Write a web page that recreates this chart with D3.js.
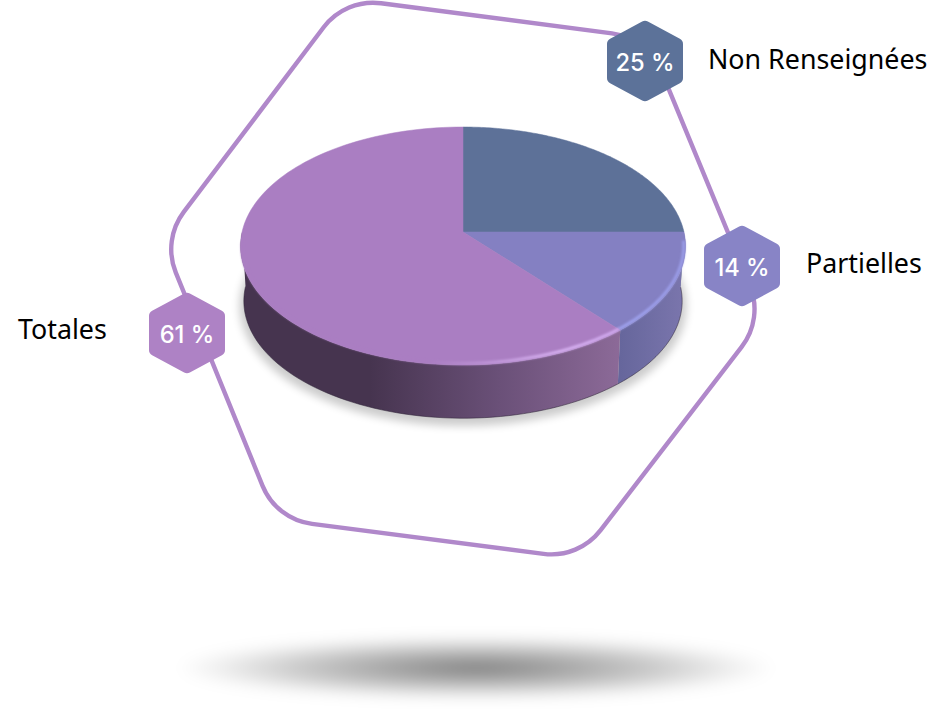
<!DOCTYPE html>
<html><head><meta charset="utf-8">
<script src="https://cdn.jsdelivr.net/npm/d3@7/dist/d3.min.js"></script>
<style>html,body{margin:0;padding:0;background:#fff}svg{display:block}</style>
</head><body><svg id="c" width="952" height="709"></svg>
<script>
const categories = ["Non Renseignées", "Partielles", "Totales"];
const values = [25, 14, 61];
const topColors = ["#5d7198", "#8480c2", "#aa7ec2"];
const badgeColors = ["#5c7299", "#8884c6", "#ae82c5"];
const sideStops = [
  [["#4a5a7a", 0], ["#4a5a7a", 1]],
  [["#66669c", 0], ["#7b76ad", 1]],
  [["#46344f", 0], ["#46344f", 0.34], ["#6a5078", 0.68], ["#8c6a98", 1]]
];
const rimStops = [
  [["#7f95c0", 0], ["#7f95c0", 1]],
  [["#9fa2ee", 0], ["#9a9ce8", 1]],
  [["#aa7ec2", 0], ["#aa7ec2", 0.5], ["#d8b2f2", 0.84], ["#cfa8ee", 1]]
];
const badgeCenters = [[645, 61], [742, 266], [187, 333]];
const labelPos = [[708, 68.5, "start"], [806, 273, "start"], [18, 338.5, "start"]];
const outline = [[345.4, -1.4], [647.6, 38], [763.5, 318.5], [578.9, 558.4], [276.2, 519.3], [162.5, 240]];

const W = 952, H = 709;
const svg = d3.select("#c").attr("viewBox", `0 0 ${W} ${H}`);
const defs = svg.append("defs");
const blur = (id, s) => defs.append("filter").attr("id", id)
  .attr("x", "-30%").attr("y", "-60%").attr("width", "160%").attr("height", "220%")
  .append("feGaussianBlur").attr("stdDeviation", s);
blur("b1", 1.1); blur("b4", 4); blur("b8", 7);

// floor shadow
const rg = defs.append("radialGradient").attr("id", "floor");
[[0, 0.5], [0.25, 0.38], [0.6, 0.21], [0.85, 0.07], [1, 0]].forEach(([o, a]) =>
  rg.append("stop").attr("offset", o).attr("stop-color", "#000").attr("stop-opacity", a));
svg.append("ellipse").attr("cx", 476).attr("cy", 668).attr("rx", 300).attr("ry", 32)
  .attr("fill", "url(#floor)").attr("filter", "url(#b8)");

// outline
function roundedPoly(pts, r) {
  const p = d3.path(), n = pts.length;
  const mid = (a, b) => [(a[0] + b[0]) / 2, (a[1] + b[1]) / 2];
  const s = mid(pts[n - 1], pts[0]);
  p.moveTo(s[0], s[1]);
  for (let i = 0; i < n; i++) {
    const a = pts[i], b = pts[(i + 1) % n];
    p.arcTo(a[0], a[1], b[0], b[1], r);
  }
  p.closePath();
  return p.toString();
}
svg.append("path").attr("d", roundedPoly(outline, 62)).attr("fill", "none")
  .attr("stroke", "#b088ca").attr("stroke-width", 4.4);

// pie geometry
const apex = { x: 463, y: 232 }, ell = { cx: 463, cy: 246, rx: 222.5, ry: 119 };
const depth = 55, ky = 115, bottomScale = 0.985;
function rim(theta) {
  const dx = Math.sin(theta) * ell.rx, dy = -Math.cos(theta) * ky;
  const ox = apex.x - ell.cx, oy = apex.y - ell.cy;
  const A = dx * dx / (ell.rx * ell.rx) + dy * dy / (ell.ry * ell.ry);
  const B = 2 * (ox * dx / (ell.rx * ell.rx) + oy * dy / (ell.ry * ell.ry));
  const C = ox * ox / (ell.rx * ell.rx) + oy * oy / (ell.ry * ell.ry) - 1;
  const t = (-B + Math.sqrt(B * B - 4 * A * C)) / (2 * A);
  return [apex.x + t * dx, apex.y + t * dy];
}
const lower = p => [ell.cx + (p[0] - ell.cx) * bottomScale, ell.cy + depth + (p[1] - ell.cy) * bottomScale];
const inset = p => [ell.cx + (p[0] - ell.cx) * 0.992, ell.cy + (p[1] - ell.cy) * 0.985];
const slices = d3.pie().sort(null)(values);
const arcPts = d => d3.range(0, 121).map(i => rim(d.startAngle + (d.endAngle - d.startAngle) * i / 120));
const line = d3.line();

// contact shadow
svg.append("ellipse").attr("cx", ell.cx).attr("cy", ell.cy + depth + 5).attr("rx", ell.rx + 1).attr("ry", ell.ry + 1)
  .attr("fill", "#000").attr("opacity", 0.2).attr("filter", "url(#b4)");

function grad(id, stops, x1, x2) {
  const g = defs.append("linearGradient").attr("id", id).attr("gradientUnits", "userSpaceOnUse")
    .attr("x1", x1).attr("x2", x2).attr("y1", 0).attr("y2", 0);
  stops.forEach(([c, o]) => g.append("stop").attr("offset", o).attr("stop-color", c));
}

// sides
slices.forEach((d, i) => {
  const pts = arcPts(d).filter(p => p[1] >= ell.cy - 16);
  const ext = d3.extent(pts, p => p[0]);
  grad("side" + i, sideStops[i], ext[0], ext[1]);
  svg.append("path").attr("d", line(pts.concat(pts.map(lower).reverse())) + "Z")
    .attr("fill", `url(#side${i})`);
  if (i > 0) svg.append("path").attr("d", line(pts.map(lower))).attr("fill", "none")
    .attr("stroke", "#2f2438").attr("stroke-opacity", 0.55).attr("stroke-width", 1);
});
// top faces
slices.forEach((d, i) => {
  svg.append("path").attr("d", line([[apex.x, apex.y]].concat(arcPts(d))) + "Z")
    .attr("fill", topColors[i]).attr("stroke", topColors[i]).attr("stroke-width", 0.5);
});
// rim highlight
slices.forEach((d, i) => {
  const pts = arcPts(d).filter(p => p[1] >= ell.cy - 6);
  if (pts.length < 2 || i === 0) return;
  const ext = d3.extent(pts, p => p[0]);
  grad("rim" + i, rimStops[i], ext[0], ext[1]);
  svg.append("path").attr("d", line(pts.map(inset))).attr("fill", "none")
    .attr("stroke", `url(#rim${i})`).attr("stroke-width", 3).attr("filter", "url(#b1)");
});

// badges
function hexPts(c) {
  const rx = 38, ry = 41;
  return [[0, -ry], [rx, -ry / 2], [rx, ry / 2], [0, ry], [-rx, ry / 2], [-rx, -ry / 2]]
    .map(p => [c[0] + p[0], c[1] + p[1]]);
}
categories.forEach((name, i) => {
  const c = badgeCenters[i];
  svg.append("path").attr("d", roundedPoly(hexPts(c), 6)).attr("fill", badgeColors[i]);
  svg.append("text").attr("x", c[0]).attr("y", c[1] + 9.6).attr("text-anchor", "middle")
    .attr("font-family", "Inter, 'Liberation Sans', sans-serif").attr("font-size", 23.7).attr("font-weight", 500)
    .attr("fill", "#fff").text(values[i] + " %");
  const l = labelPos[i];
  svg.append("text").attr("x", l[0]).attr("y", l[1]).attr("text-anchor", l[2])
    .attr("font-family", "'Noto Sans', 'Open Sans', sans-serif").attr("font-size", 26.8)
    .attr("fill", "#000").text(name);
});
</script></body></html>
